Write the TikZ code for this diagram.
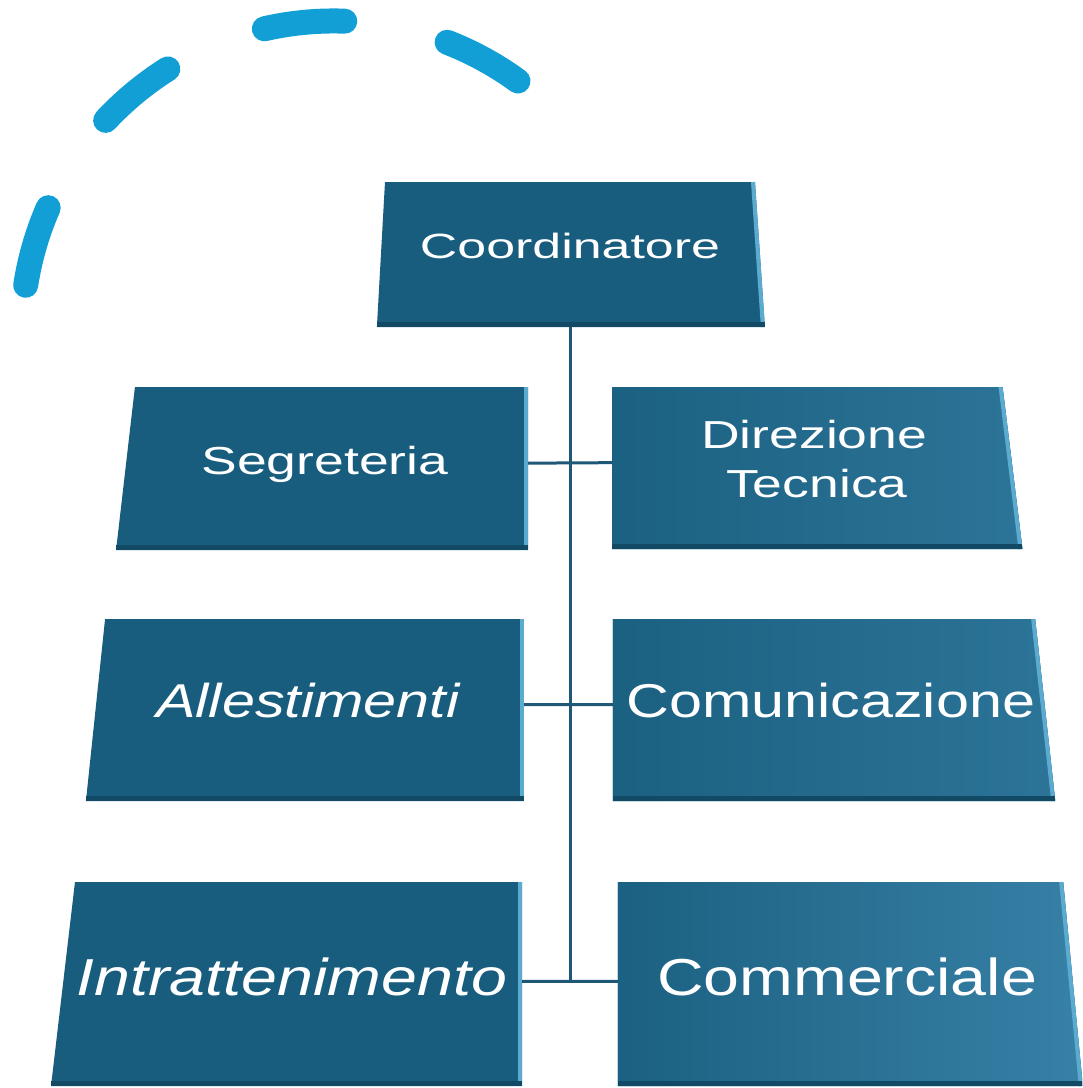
\documentclass[tikz,border=0pt]{standalone}
\usepackage{fontspec}
\setmainfont{Liberation Sans}
\usetikzlibrary{shapes.geometric}
\definecolor{boxdark}{HTML}{185D7D}
\definecolor{boxlight}{HTML}{2C7498}
\definecolor{boxlighter}{HTML}{3780A6}
\definecolor{boxedge}{HTML}{5BAAD0}
\definecolor{boxshadow}{HTML}{124A66}
\definecolor{linkcol}{HTML}{1E5876}
\definecolor{arcblue}{HTML}{129FD6}
\tikzset{
  box/.style={trapezium, trapezium stretches body=true, draw=none, fill=boxdark,
              text=white, outer sep=0pt, inner xsep=0pt},
  leftbox/.style={box, trapezium right angle=90, execute at end node={\hspace*{10pt}}},
  rightbox/.style={box, trapezium left angle=90, left color=boxdark!85!boxlight, right color=boxlight,
                   execute at begin node={\hspace*{10pt}}},
  rowzero/.style={font=\fontsize{26.3}{30}\selectfont\addfontfeatures{FakeStretch=1.48},
                  text height=5.25pt, text depth=0pt, inner ysep=51.75pt},
  rowone/.style={font=\fontsize{29.3}{36.75}\selectfont\addfontfeatures{FakeStretch=1.37},
                 text height=8.25pt, text depth=0pt, inner ysep=57pt},
  rowtwo/.style={font=\fontsize{35.6}{40}\selectfont\addfontfeatures{FakeStretch=1.25},
                 text height=11pt, text depth=0pt, inner ysep=62.75pt},
  rowthree/.style={font=\fontsize{39}{44}\selectfont\addfontfeatures{FakeStretch=1.24},
                   text height=16.5pt, text depth=0pt, inner ysep=68.25pt},
  link/.style={draw=linkcol, line width=2.25pt},
  edgelight/.style={draw=boxedge, line width=3pt},
  edgedark/.style={draw=boxshadow, line width=3.5pt},
  arcdash/.style={draw=arcblue, line width=18.75pt, line cap=round,
                  dash pattern=on 60.75pt off 78.75pt},
}
\begin{document}
\begin{tikzpicture}[x=0.75pt, y=-0.75pt]
  \clip (0,0) rectangle (1082,1088);

  %% ---- DASHED ARC ----
  \draw[arcdash] (334,333) ++(-171.2:312) arc[start angle=-171.2, end angle=-53.2, radius=312];

  %% ---- BOXES ----
  \node[box, rowzero, trapezium left angle=86.8, trapezium right angle=86.1,
        minimum width=291pt] (coord) at (570,254.5) {Coordinatore};

  \node[leftbox, rowone, trapezium left angle=83.4,
        minimum width=309pt] (segr) at (331.5,468.5) {Segreteria};
  \node[rightbox, rowone, trapezium right angle=83, align=center, text height=43.5pt,
        inner ysep=39pt, minimum width=307.5pt] (dir) at (807.5,468) {Direzione\\\hspace*{4pt}Tecnica};

  \node[leftbox, rowtwo, trapezium left angle=84,
        minimum width=328.5pt] (alle) at (314.5,710) {\itshape Allestimenti};
  \node[rightbox, rowtwo, trapezium right angle=83.7,
        minimum width=327pt] (comu) at (824,710) {Comunicazione};

  \node[leftbox, rowthree, trapezium left angle=83.3,
        minimum width=353.25pt] (intr) at (298.5,984) {\itshape Intrattenimento};
  \node[rightbox, rowthree, trapezium right angle=84.5, right color=boxlighter,
        minimum width=348.75pt] (comm) at (840.5,984) {Commerciale};

  %% ---- BEVELS ----
  \foreach \n in {coord,segr,dir,alle,comu,intr,comm} {
    \draw[edgelight] ([xshift=-1.5pt]\n.top right corner) -- ([xshift=-1.5pt]\n.bottom right corner);
    \draw[edgedark] ([yshift=1.7pt]\n.bottom left corner) -- ([yshift=1.7pt]\n.bottom right corner);
  }

  %% ---- CONNECTORS ----
  \draw[link] (coord.south) -- ([yshift=2pt]coord.south |- intr.east);
  \draw[link] ([yshift=4pt]segr.east) -- ([yshift=4pt]dir.west);
  \draw[link] ([yshift=4pt]alle.east) -- ([yshift=4pt]comu.west);
  \draw[link] ([yshift=2pt]intr.east) -- ([yshift=2pt]comm.west);

\end{tikzpicture}
\end{document}
